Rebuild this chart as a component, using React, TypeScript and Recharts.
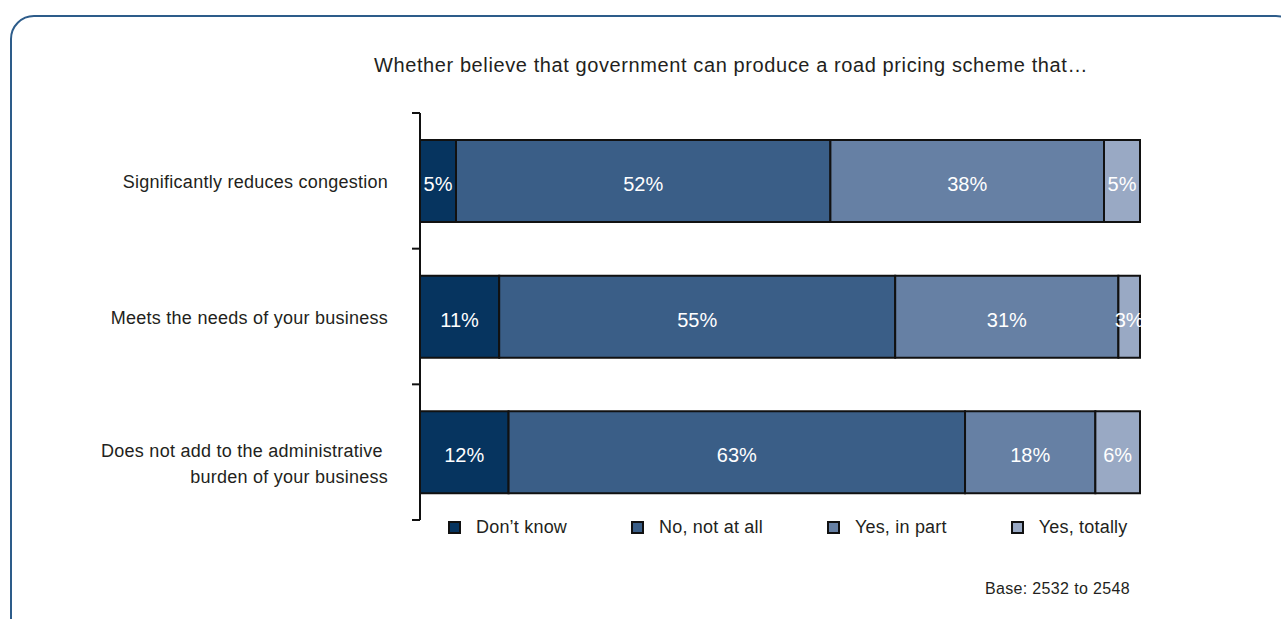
import React from "react";
import { BarChart, Bar, XAxis, YAxis, LabelList } from "recharts";

const categories = [
  "Significantly reduces congestion",
  "Meets the needs of your business",
  "Does not add to the administrative \nburden of your business",
];
const seriesNames = ["Don\u2019t know", "No, not at all", "Yes, in part", "Yes, totally"];
const dontKnow = [5, 11, 12.3];
const noNotAtAll = [52, 55, 63.4];
const yesInPart = [38, 31, 18.1];
const yesTotally = [5, 3, 6.2];
const colors = ["#06345f", "#3a5e87", "#6680a4", "#99a9c4"];
const title = "Whether believe that government can produce a road pricing scheme that\u2026";
const baseNote = "Base: 2532 to 2548";

const keys = ["dk", "no", "part", "total"];
const data = categories.map((c, i) => ({
  cat: c,
  dk: dontKnow[i],
  no: noNotAtAll[i],
  part: yesInPart[i],
  total: yesTotally[i],
}));

const FONT = "'Liberation Sans', Arial, Helvetica, sans-serif";
const TICK_MARGIN = 32;
const TICK_LEN = 8;

const CatTick = (props: any) => {
  const { x, y, payload, index, visibleTicksCount } = props;
  const lines = String(payload.value).split("\n");
  const half = Number(payload.offset) || 0;
  const axisX = x + TICK_MARGIN;
  const bounds = [y - half];
  if (index === visibleTicksCount - 1) bounds.push(y + half);
  const first = lines.length > 1 ? y + 5 : y + 7;
  return (
    <g>
      {half > 0 &&
        bounds.map((by, j) => (
          <line
            key={j}
            x1={axisX - TICK_LEN}
            x2={axisX}
            y1={by}
            y2={by}
            stroke="#111"
            strokeWidth={2}
          />
        ))}
      <text
        x={x}
        y={y}
        textAnchor="end"
        fontFamily={FONT}
        fontSize={18}
        letterSpacing={0.25}
        fill="#231f20"
        style={{ whiteSpace: "pre" }}
      >
        {lines.map((l: string, i: number) => (
          <tspan key={i} x={x} y={first + i * 26}>
            {l}
          </tspan>
        ))}
      </text>
    </g>
  );
};

export default function App() {
  return (
    <div
      style={{
        position: "absolute",
        left: 0,
        top: 0,
        width: 1281,
        height: 619,
        overflow: "hidden",
        background: "#fff",
        fontFamily: FONT,
      }}
    >
      <div
        style={{
          position: "absolute",
          left: 10,
          top: 15,
          width: 1290,
          height: 640,
          border: "2px solid #2d5c8a",
          borderRadius: 24,
          boxSizing: "border-box",
        }}
      />
      <div
        style={{
          position: "absolute",
          left: 0,
          width: 1462,
          top: 54,
          textAlign: "center",
          fontSize: 20,
          letterSpacing: 0.6,
          color: "#231f20",
          whiteSpace: "nowrap",
        }}
      >
        {title}
      </div>
      <div style={{ position: "absolute", left: 0, top: 0 }}>
        <BarChart
          width={1281}
          height={619}
          data={data}
          layout="vertical"
          margin={{ top: 113, right: 141, bottom: 99, left: 0 }}
        >
          <XAxis type="number" domain={[0, 100]} hide />
          <YAxis
            type="category"
            dataKey="cat"
            width={420}
            axisLine={{ stroke: "#111", strokeWidth: 2 }}
            tickLine={false}
            tickSize={0}
            tickMargin={TICK_MARGIN}
            tick={<CatTick />}
            interval={0}
          />
          {keys.map((k, i) => (
            <Bar
              key={k}
              dataKey={k}
              name={seriesNames[i]}
              stackId="s"
              fill={colors[i]}
              stroke="#111"
              strokeWidth={2}
              barSize={82}
              isAnimationActive={false}
            >
              <LabelList
                dataKey={k}
                position="center"
                fill="#ffffff"
                fontSize={20}
                fontFamily={FONT}
                offset={0}
                formatter={(v: any) => `${Math.round(Number(v))}%`}
                style={{ transform: "translateY(3px)" }}
              />
            </Bar>
          ))}
        </BarChart>
      </div>
      <div
        style={{
          position: "absolute",
          left: 448,
          top: 517,
          display: "flex",
          alignItems: "center",
          fontSize: 18,
          letterSpacing: 0.2,
          color: "#231f20",
          whiteSpace: "nowrap",
        }}
      >
        {seriesNames.map((n, i) => (
          <div key={n} style={{ display: "flex", alignItems: "center", marginRight: 64 }}>
            <div
              style={{
                width: 13,
                height: 13,
                boxSizing: "border-box",
                border: "2px solid #111",
                background: colors[i],
                marginRight: 15,
              }}
            />
            <span>{n}</span>
          </div>
        ))}
      </div>
      <div
        style={{
          position: "absolute",
          right: 1281 - 1130,
          top: 580,
          fontSize: 16,
          letterSpacing: 0.35,
          color: "#231f20",
          whiteSpace: "nowrap",
        }}
      >
        {baseNote}
      </div>
    </div>
  );
}
